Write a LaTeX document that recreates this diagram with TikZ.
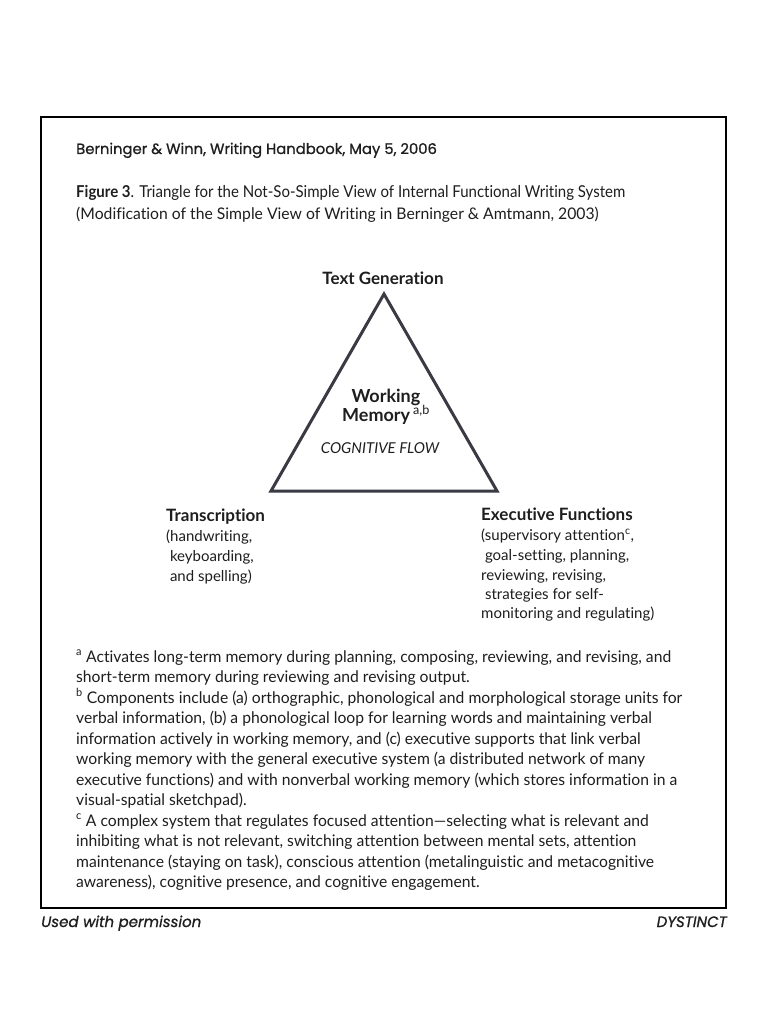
\documentclass[tikz,border=0pt]{standalone}
\usepackage{fontspec}
\setmainfont{Lato}[Ligatures=NoCommon]
\newfontfamily\popfont{Poppins}[FakeBold=0.9]
\newfontfamily\fnfont{Lato}[Ligatures={TeX,NoCommon},FakeStretch=0.98]
\definecolor{txt}{HTML}{1E1E1E}
\definecolor{tri}{HTML}{3A3A44}
\begin{document}
\begin{tikzpicture}[x=1pt,y=-1pt,
  lbl/.style={anchor=base west,inner sep=0pt,text=txt},
  fn/.style={lbl,font=\fnfont\fontsize{16}{18}\selectfont},
  hd/.style={lbl,font=\fontsize{16}{19}\selectfont},
  side/.style={lbl,font=\fontsize{15}{18}\selectfont},
  sidehd/.style={lbl,font=\fontsize{17}{20}\selectfont\bfseries}]
\useasboundingbox (0,0) rectangle (768,1024);
\fill[white] (0,0) rectangle (768,1024);
\draw[line width=2pt,black] (41,117) rectangle (726,908);
\node[lbl,font=\popfont\fontsize{14.8}{17}\selectfont] (head) at (76,154) {Berninger \& Winn, Writing Handbook, May 5, 2006};
\node[hd] (fig1) at (76,198) {\fontsize{16.4}{19}\selectfont\addfontfeature{FakeStretch=0.915}\textbf{Figure 3}. Triangle for the Not-So-Simple View of Internal Functional Writing System};
\node[hd] (fig2) at (76,219) {\addfontfeature{FakeStretch=0.983}(Modification of the Simple View of Writing in Berninger \& Amtmann, 2003)};
% triangle
\coordinate (apex) at (384,294);
\coordinate (bl) at (271,491);
\coordinate (br) at (497,491);
\draw[tri,line width=3pt,line join=miter] (apex) -- (bl) -- (br) -- cycle;
\node[anchor=base,inner sep=0pt,text=txt,font=\fontsize{17}{20}\selectfont\bfseries] (tg) at (383,284) {Text Generation};
\node[anchor=base,inner sep=0pt,text=txt,font=\fontsize{18}{20}\selectfont\bfseries] (wm1) at (386,402) {Working};
\node[anchor=base,inner sep=0pt,text=txt,font=\fontsize{18}{20}\selectfont\bfseries] (wm2) at (386,421) {Memory\,\textsuperscript{\mdseries a,b}};
\node[anchor=base,inner sep=0pt,text=txt,font=\fontsize{15}{18}\selectfont\itshape] (cf) at (380,453) {COGNITIVE FLOW};
% transcription
\node[sidehd] (tr) at (166,521) {Transcription};
\node[side] (tr1) at (166,541) {(handwriting,};
\node[side] (tr2) at (166,561) {\ keyboarding,};
\node[side] (tr3) at (166,581) {\ and spelling)};
% executive
\node[sidehd] (ef) at (481,520) {Executive Functions};
\node[side] (ef1) at (481,540) {(supervisory attention\textsuperscript{c},};
\node[side] (ef2) at (481,560) {\ goal-setting, planning,};
\node[side] (ef3) at (481,580) {reviewing, revising,};
\node[side] (ef4) at (481,599) {\ strategies for self-};
\node[side] (ef5) at (481,618) {monitoring and regulating)};
% footnotes
\node[fn] (f1) at (76,662) {\textsuperscript{a} Activates long-term memory during planning, composing, reviewing, and revising, and};
\node[fn] (f2) at (76,682) {short-term memory during reviewing and revising output.};
\node[fn] (f3) at (76,703) {\textsuperscript{b} Components include (a) orthographic, phonological and morphological storage units for};
\node[fn] (f4) at (76,723) {verbal information, (b) a phonological loop for learning words and maintaining verbal};
\node[fn] (f5) at (76,744) {information actively in working memory, and (c) executive supports that link verbal};
\node[fn] (f6) at (76,764) {working memory with the general executive system (a distributed network of many};
\node[fn] (f7) at (76,785) {executive functions) and with nonverbal working memory (which stores information in a};
\node[fn] (f8) at (76,805) {visual-spatial sketchpad).};
\node[fn] (f9) at (76,826) {\textsuperscript{c} A complex system that regulates focused attention—selecting what is relevant and};
\node[fn] (f10) at (76,846) {inhibiting what is not relevant, switching attention between mental sets, attention};
\node[fn] (f11) at (76,867) {maintenance (staying on task), conscious attention (metalinguistic and metacognitive};
\node[fn] (f12) at (76,887) {awareness), cognitive presence, and cognitive engagement.};
% footer
\node[lbl,font=\popfont\fontsize{15}{18}\selectfont\itshape] (used) at (41,927) {Used with permission};
\node[anchor=base east,inner sep=0pt,text=txt,font=\popfont\fontsize{15}{18}\selectfont\itshape] (dys) at (727,927) {DYSTINCT};
\end{tikzpicture}
\end{document}
